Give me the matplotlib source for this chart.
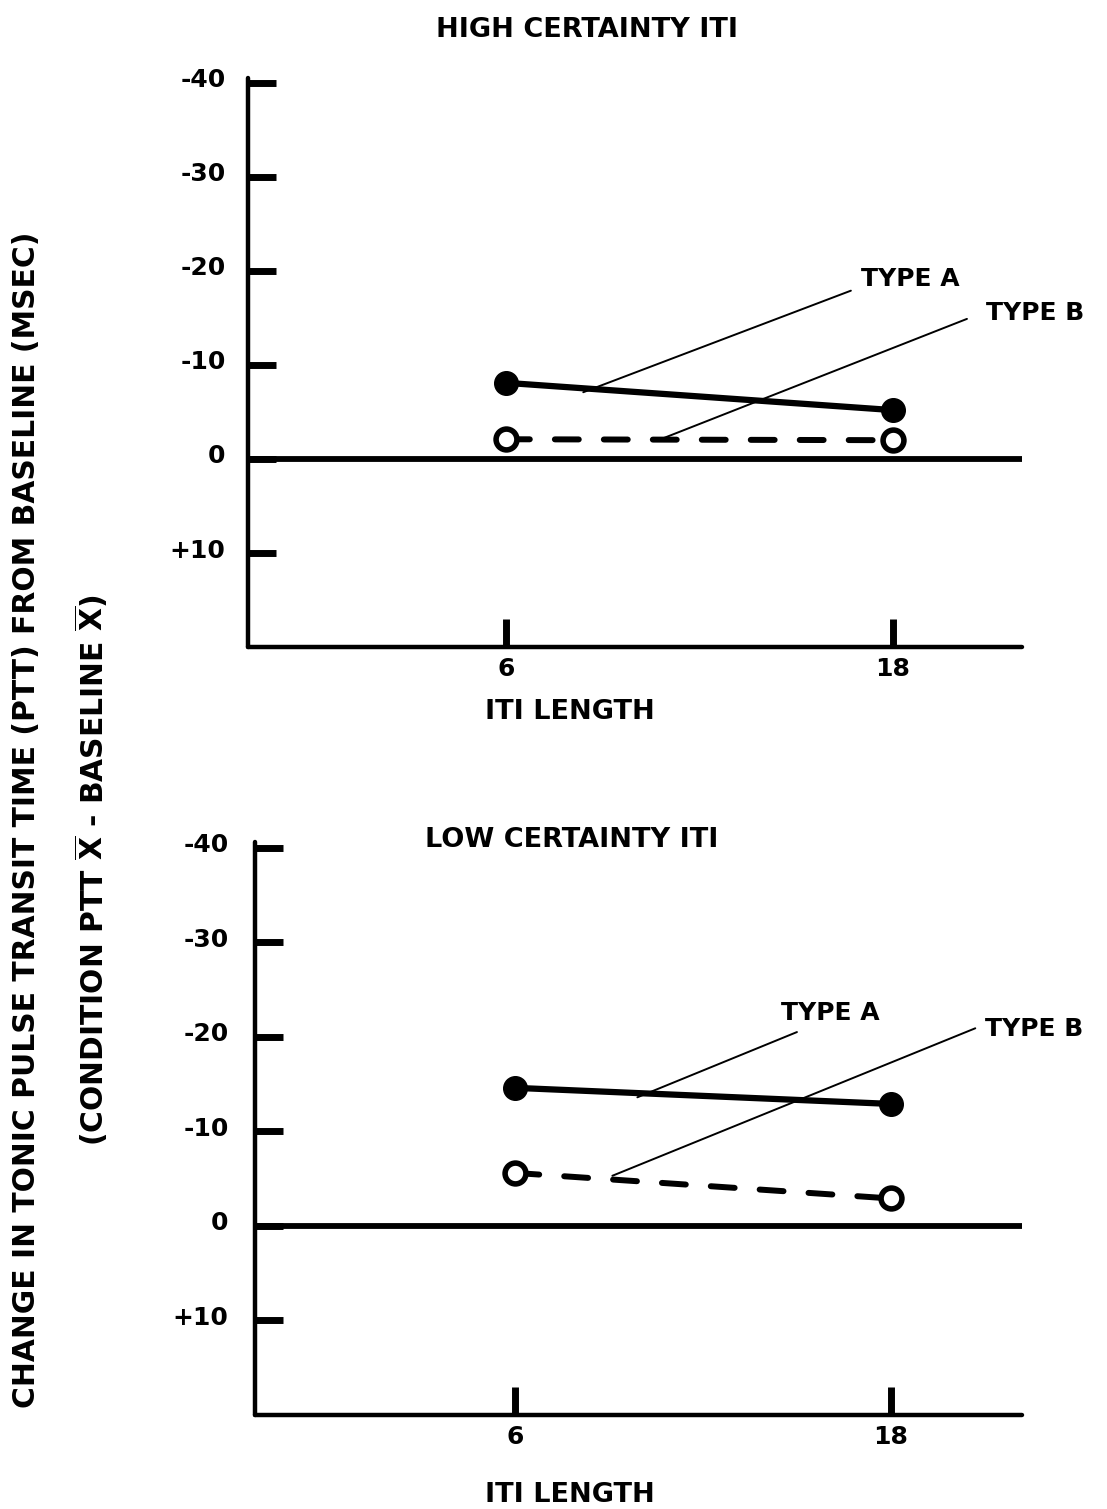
import numpy as np
import matplotlib
matplotlib.use("Agg")
import matplotlib.pyplot as plt
from matplotlib.transforms import ScaledTranslation

plt.rcParams['font.family'] = ['DejaVu Sans']
plt.rcParams['font.weight'] = 'bold'

# ITI length (sec) and change in PTT (msec, negative = shortening)
iti_length = [6, 18]
high_type_a = [-8.1, -5.2]
high_type_b = [-2.1, -2.0]
low_type_a = [-14.6, -12.9]
low_type_b = [-5.6, -2.9]

y_ticks = [-40, -30, -20, -10, 0, 10]
y_tick_labels = ['-40', '-30', '-20', '-10', '0', '+10']
x_tick_labels = ['6', '18']

FS_TICK = 18
FS = 18       # notes
FS_T = 19.5   # titles and axis labels

fig = plt.figure(figsize=(11.07, 15.09), dpi=100)


def draw_panel(ax, type_a, type_b, xlim, ylim, lbl_pad, notes):
    ax.set_xlim(*xlim)
    ax.set_ylim(*ylim)
    for s in ['top', 'right']:
        ax.spines[s].set_visible(False)
    for s in ['left', 'bottom']:
        ax.spines[s].set_linewidth(3.2)
        ax.spines[s].set_capstyle('round')

    ax.axhline(0, color='black', lw=4.2, solid_capstyle='round', zorder=2)

    ax.plot(iti_length, type_a, color='black', lw=4.5, solid_capstyle='round',
            marker='o', ms=17, mfc='black', mec='black', zorder=4)
    ax.plot(iti_length, type_b, color='black', lw=4.3, dashes=(4, 4.2),
            dash_capstyle='round', marker='o', ms=15, mfc='white',
            mec='black', mew=4, zorder=4)

    for label, (xy, xytext) in notes.items():
        ax.annotate('', xy=xy, xytext=xytext,
                    arrowprops=dict(arrowstyle='-', lw=1.4, color='black',
                                    shrinkA=0, shrinkB=0), zorder=3)

    ax.set_yticks(y_ticks)
    ax.set_yticklabels(y_tick_labels, fontsize=FS_TICK)
    ax.tick_params(axis='y', direction='in', length=20, width=5,
                   pad=lbl_pad)
    # labels sit a little above their tick marks
    lift = ScaledTranslation(0, 5 / 100, fig.dpi_scale_trans)
    for t in ax.get_yticklabels():
        t.set_transform(t.get_transform() + lift)
    ax.set_xticks(iti_length)
    ax.set_xticklabels(x_tick_labels, fontsize=FS_TICK)
    ax.tick_params(axis='x', direction='in', length=20, width=5, pad=7)


# High certainty ITI
ax1 = fig.add_axes([0.224, 0.5712, 0.699, 0.377])
draw_panel(ax1, high_type_a, high_type_b, (-2.0, 22.0), (20, -40.5), 16,
           {'TYPE A': ((8.4, -7.1), (16.7, -17.9)),
            'TYPE B': ((10.8, -2.1), (20.3, -14.9))})
ax1.text(17.0, -17.9, 'TYPE A', fontsize=FS, ha='left', va='bottom')
ax1.text(20.9, -14.3, 'TYPE B', fontsize=FS, ha='left', va='bottom')

# Low certainty ITI
ax2 = fig.add_axes([0.2304, 0.0623, 0.693, 0.3797])
draw_panel(ax2, low_type_a, low_type_b, (-2.32, 22.2), (20, -40.6), 19,
           {'TYPE A': ((9.9, -13.6), (15.0, -20.5)),
            'TYPE B': ((9.1, -5.3), (20.7, -20.9))})
ax2.text(14.5, -21.2, 'TYPE A', fontsize=FS, ha='left', va='bottom')
ax2.text(21.0, -19.6, 'TYPE B', fontsize=FS, ha='left', va='bottom')

fig.text(587 / 1107, 1 - 30 / 1509, 'HIGH CERTAINTY ITI', fontsize=FS_T,
         ha='center', va='center')
fig.text(572 / 1107, 1 - 840 / 1509, 'LOW CERTAINTY ITI', fontsize=FS_T,
         ha='center', va='center')
fig.text(570 / 1107, 1 - 712 / 1509, 'ITI LENGTH', fontsize=FS_T,
         ha='center', va='center')
fig.text(570 / 1107, 1 - 1495 / 1509, 'ITI LENGTH', fontsize=FS_T,
         ha='center', va='center')

fig.text(27 / 1107, 1 - 820 / 1509,
         'CHANGE IN TONIC PULSE TRANSIT TIME (PTT) FROM BASELINE (MSEC)',
         fontsize=21.4, rotation=90, ha='center', va='center')
fig.text(91 / 1107, 1 - 870 / 1509,
         r'(CONDITION PTT $\overline{\mathbf{X}}$ - BASELINE $\overline{\mathbf{X}}$)',
         fontsize=21.4, rotation=90, ha='center', va='center')

fig.savefig('out.png', dpi=100)
